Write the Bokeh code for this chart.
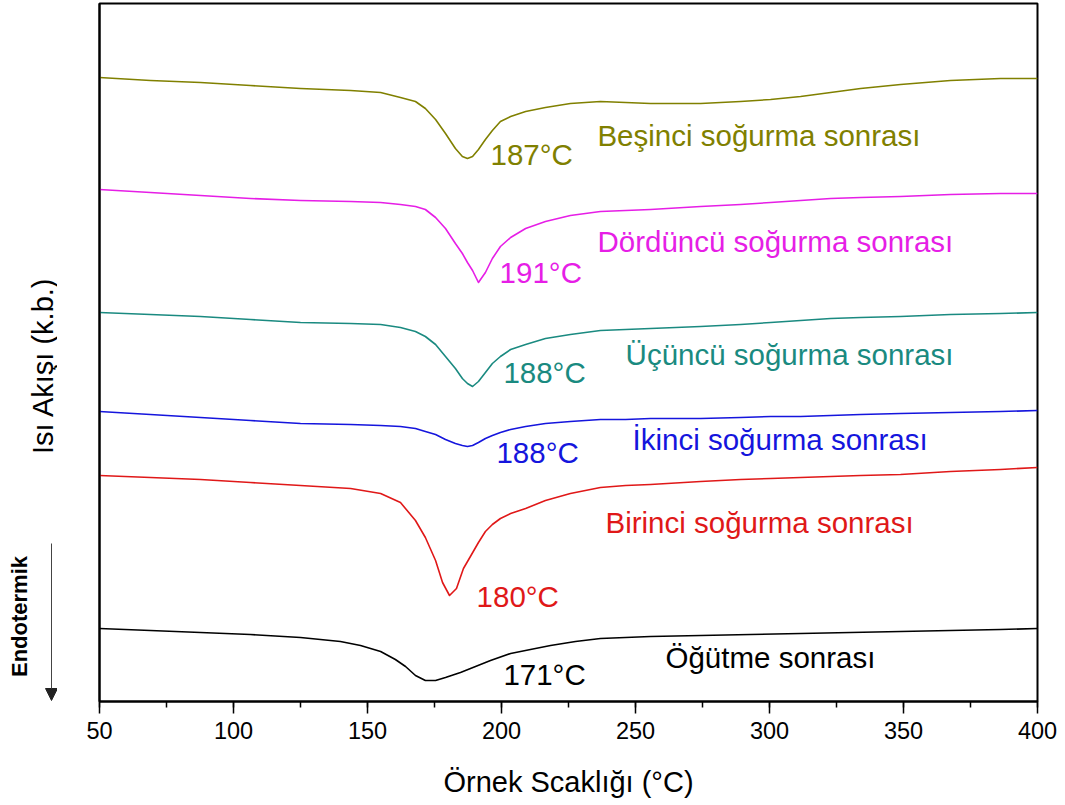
import math
from bokeh.plotting import figure
from bokeh.layouts import row
from bokeh.models import (Range1d, SingleIntervalTicker, FixedTicker, Label,
                          Arrow, NormalHead)
from bokeh.embed import file_html
from bokeh.resources import INLINE

# ---------------- data ----------------
# temperature (°C) and heat flow (arbitrary units, curves vertically offset)
temp_grid = [50.0, 69.0, 87.7, 106.3, 125.0, 143.7, 154.9, 162.3, 167.9, 171.6, 175.4, 179.1,
             182.8, 185.4, 187.3, 189.2, 191.4, 194.0, 196.6, 199.6, 203.4, 209.0, 216.4, 225.7,
             236.9, 246.3, 255.6, 274.3, 289.2, 300.4, 311.6, 322.8, 334.0, 348.9, 367.5, 386.2, 400.0]

temp_ogutme = [50.0, 69.0, 87.7, 106.3, 125.0, 139.9, 147.4, 154.9, 160.4, 164.2, 167.9, 171.6,
               175.4, 179.1, 184.7, 190.3, 195.9, 203.4, 210.8, 218.3, 227.6, 236.9, 255.6, 274.3,
               292.9, 311.6, 330.2, 348.9, 367.5, 386.2, 400.0]
hf_ogutme = [0.73, 0.71, 0.69, 0.67, 0.64, 0.60, 0.56, 0.50, 0.42, 0.35, 0.26, 0.21,
             0.21, 0.24, 0.29, 0.35, 0.41, 0.48, 0.52, 0.56, 0.60, 0.63, 0.65, 0.66,
             0.67, 0.68, 0.69, 0.70, 0.71, 0.72, 0.73]

temp_birinci = [50.0, 69.0, 87.7, 106.3, 125.0, 143.7, 154.9, 162.3, 167.9, 171.6, 175.4, 178.0,
                180.6, 183.2, 185.8, 188.4, 191.4, 194.0, 196.6, 199.6, 203.4, 209.0, 216.4, 225.7,
                236.9, 246.3, 255.6, 274.3, 289.2, 300.4, 311.6, 322.8, 334.0, 348.9, 367.5, 386.2, 400.0]
hf_birinci = [2.26, 2.24, 2.22, 2.19, 2.16, 2.13, 2.08, 1.99, 1.81, 1.64, 1.41, 1.19,
              1.06, 1.13, 1.33, 1.45, 1.59, 1.70, 1.77, 1.83, 1.88, 1.93, 2.01, 2.08,
              2.14, 2.16, 2.17, 2.20, 2.22, 2.23, 2.24, 2.25, 2.26, 2.27, 2.30, 2.32, 2.34]

temp_ikinci = temp_grid
hf_ikinci = [2.90, 2.87, 2.84, 2.81, 2.78, 2.77, 2.76, 2.75, 2.73, 2.70, 2.67, 2.62,
             2.58, 2.56, 2.55, 2.56, 2.59, 2.63, 2.66, 2.69, 2.72, 2.75, 2.78, 2.80,
             2.82, 2.82, 2.83, 2.83, 2.84, 2.85, 2.85, 2.86, 2.87, 2.88, 2.89, 2.90, 2.91]

temp_ucuncu = temp_grid
hf_ucuncu = [3.89, 3.87, 3.85, 3.82, 3.79, 3.78, 3.77, 3.74, 3.70, 3.65, 3.57, 3.45,
             3.33, 3.23, 3.18, 3.15, 3.20, 3.29, 3.38, 3.45, 3.52, 3.57, 3.63, 3.67,
             3.71, 3.72, 3.73, 3.75, 3.77, 3.79, 3.81, 3.83, 3.84, 3.85, 3.87, 3.88, 3.89]

temp_dorduncu = temp_grid
hf_dorduncu = [5.12, 5.09, 5.06, 5.03, 5.01, 5.00, 4.99, 4.97, 4.95, 4.92, 4.84, 4.73,
               4.58, 4.48, 4.39, 4.31, 4.19, 4.29, 4.43, 4.55, 4.64, 4.73, 4.80, 4.86,
               4.90, 4.91, 4.92, 4.95, 4.97, 4.99, 5.01, 5.03, 5.04, 5.05, 5.07, 5.08, 5.08]

temp_besinci = temp_grid
hf_besinci = [6.24, 6.21, 6.19, 6.16, 6.13, 6.11, 6.09, 6.04, 6.00, 5.93, 5.82, 5.68,
              5.53, 5.45, 5.43, 5.45, 5.52, 5.62, 5.71, 5.80, 5.85, 5.90, 5.94, 5.98,
              6.00, 5.99, 5.98, 5.98, 6.00, 6.02, 6.05, 6.09, 6.13, 6.17, 6.21, 6.23, 6.23]

series_names = ["Öğütme sonrası", "Birinci soğurma sonrası", "İkinci soğurma sonrası",
                "Üçüncü soğurma sonrası", "Dördüncü soğurma sonrası", "Beşinci soğurma sonrası"]
peak_labels = ["171°C", "180°C", "188°C", "188°C", "191°C", "187°C"]
series_colors = ["#000000", "#E01818", "#1515DD", "#1A8A80", "#E61EE6", "#808000"]

x_ticks_step = 50
y_axis_title = "Isı Akışı (k.b.)"
x_axis_title = "Örnek Scaklığı (°C)"
endo_text = "Endotermik"

# label anchor positions (temperature, heat flow) for names and peak temperatures
name_pos = [(261.2, 0.44), (238.8, 1.79), (248.9, 2.62), (246.3, 3.47), (235.8, 4.60), (235.8, 5.66)]
peak_pos = [(200.7, 0.27), (190.7, 1.05), (198.1, 2.49), (200.7, 3.29), (199.3, 4.29), (195.9, 5.47)]

temps = [temp_ogutme, temp_birinci, temp_ikinci, temp_ucuncu, temp_dorduncu, temp_besinci]
flows = [hf_ogutme, hf_birinci, hf_ikinci, hf_ucuncu, hf_dorduncu, hf_besinci]

FONT = "Liberation Sans"
LEFT_W = 57

y_range = Range1d(0, 6.98)

# ---------------- main plot ----------------
p = figure(width=1065 - LEFT_W, height=805, x_range=Range1d(50, 400), y_range=y_range,
           output_backend="svg", toolbar_location=None,
           min_border_left=99 - LEFT_W, min_border_right=28, min_border_top=3, min_border_bottom=104)

p.xgrid.visible = False
p.ygrid.visible = False
p.outline_line_color = "black"
p.outline_line_width = 2
p.outline_line_alpha = 1
p.background_fill_color = "white"
p.border_fill_color = "white"

xa = p.xaxis[0]
xa.ticker = SingleIntervalTicker(interval=x_ticks_step, num_minor_ticks=2)
xa.axis_line_width = 2
xa.major_tick_out = 12
xa.major_tick_in = 0
xa.minor_tick_out = 6
xa.minor_tick_in = 0
xa.major_tick_line_width = 1.5
xa.minor_tick_line_width = 1.5
xa.major_label_text_font = FONT
xa.major_label_text_font_size = "23.5px"
xa.major_label_text_color = "black"
xa.major_label_standoff = 8
xa.axis_label = x_axis_title
xa.axis_label_text_font = FONT
xa.axis_label_text_font_size = "29px"
xa.axis_label_text_font_style = "normal"
xa.axis_label_text_color = "black"
xa.axis_label_standoff = 24

ya = p.yaxis[0]
ya.ticker = FixedTicker(ticks=[])
ya.axis_line_width = 2
ya.major_tick_out = 0
ya.major_tick_in = 0
ya.minor_tick_out = 0
ya.minor_tick_in = 0
ya.major_label_text_font_size = "0px"

for t, h, c, nm, pk, npos, ppos in zip(temps, flows, series_colors, series_names,
                                       peak_labels, name_pos, peak_pos):
    p.line(t, h, line_color=c, line_width=1.6, line_join="round")
    p.add_layout(Label(x=npos[0], y=npos[1], text=nm, text_font=FONT,
                       text_font_size="29.5px", text_color=c, text_baseline="alphabetic"))
    p.add_layout(Label(x=ppos[0], y=ppos[1], text=pk, text_font=FONT,
                       text_font_size="29.5px", text_color=c, text_baseline="alphabetic"))

# ---------------- left strip: y title and "Endotermik" arrow ----------------
# shares the vertical range (and frame alignment) of the main plot
side = figure(width=LEFT_W, height=805, x_range=Range1d(0, LEFT_W), y_range=y_range,
              output_backend="svg", toolbar_location=None,
              x_axis_location=None, y_axis_location=None,
              min_border_left=0, min_border_right=0, min_border_top=3, min_border_bottom=104)
side.grid.visible = False
side.outline_line_color = None
side.background_fill_color = "white"
side.border_fill_color = "white"

side.add_layout(Label(x=42, y=3.36, text=y_axis_title, angle=math.pi / 2,
                      text_align="center", text_baseline="middle", text_font=FONT,
                      text_font_size="29px", text_color="black"))
side.add_layout(Arrow(end=NormalHead(size=12, fill_color="#222222", line_color="#222222"),
                      x_start=51, y_start=1.58, x_end=51, y_end=0.01,
                      line_color="#444444", line_width=1))
side.add_layout(Label(x=19, y=0.85, text=endo_text, angle=math.pi / 2,
                      text_align="center", text_baseline="middle", text_font=FONT,
                      text_font_size="22px", text_font_style="bold", text_color="black"))

layout = row(side, p, spacing=0)
open("out.html", "w").write(file_html(layout, INLINE))
